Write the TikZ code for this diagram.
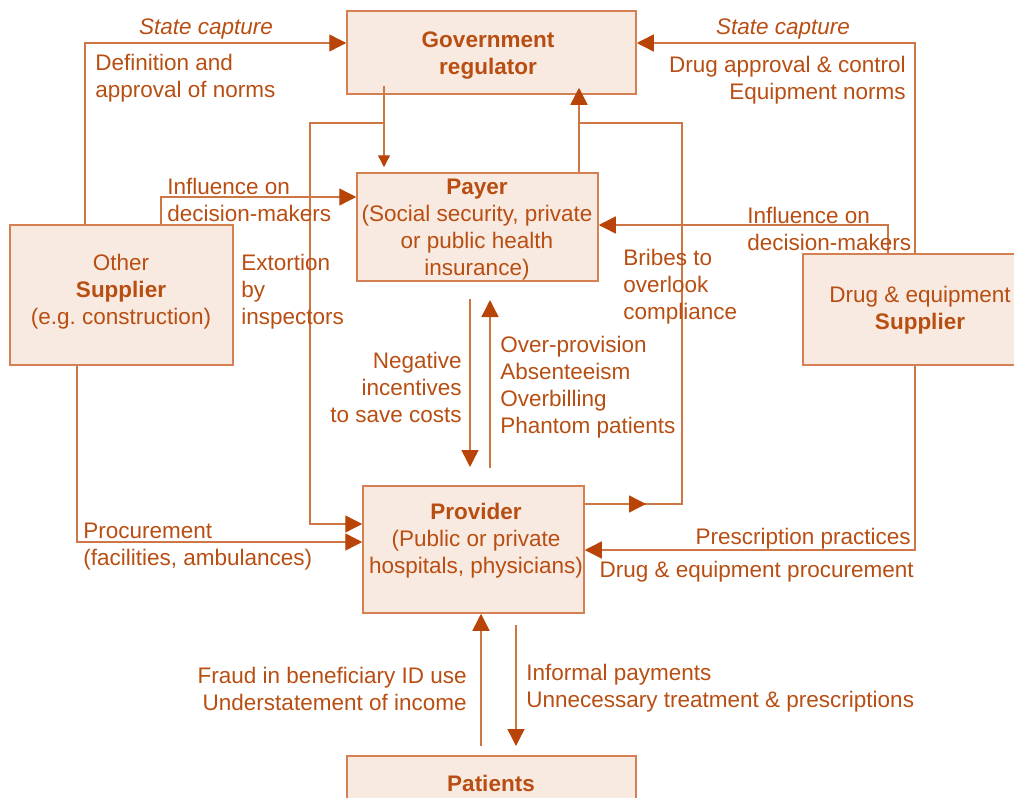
\documentclass[tikz,border=0pt]{standalone}
\usepackage{fontspec}
\setmainfont{Liberation Sans}
\usetikzlibrary{arrows.meta}
\definecolor{tc}{RGB}{184,78,18}
\definecolor{lc}{RGB}{206,118,68}
\definecolor{bf}{RGB}{249,234,225}
\definecolor{bd}{RGB}{212,128,82}
\definecolor{ac}{RGB}{184,68,8}
\tikzset{
  box/.style={draw=bd, fill=bf, line width=0.75pt, inner sep=0pt},
  txt/.style={text=tc, inner sep=0pt, yshift=-1.5pt, font=\fontsize{11.25}{13.5}\selectfont},
  con/.style={draw=lc, line width=0.7pt},
  arr/.style={con, -{Triangle[length=8.5pt,width=8.5pt,color=ac]}},
  sarr/.style={con, -{Triangle[length=6pt,width=6pt,color=ac]}},
}
\begin{document}
\begin{tikzpicture}[x=0.5pt,y=-0.5pt]
\useasboundingbox (0,0) rectangle (1014,798);
% boxes
\node[box, minimum width=144.5pt, minimum height=41.5pt] (gov) at (491.5,52.5) {};
\node[box, minimum width=120.5pt, minimum height=54pt] (pay) at (477.5,227) {};
\node[box, minimum width=111.5pt, minimum height=70pt] (osup) at (121.5,295) {};
\node[box, minimum width=117pt, minimum height=55.5pt] (dsup) at (920,309.5) {};
\node[box, minimum width=110.5pt, minimum height=63.5pt] (prov) at (473.5,549.5) {};
\node[box, minimum width=144.5pt, minimum height=37pt] (pat) at (491.5,793) {};
% coordinates
\coordinate (a1) at (85,43);
\coordinate (a2) at (915,43);
\coordinate (a3) at (384,123);
\coordinate (a4) at (310,123);
\coordinate (a5) at (310,524);
\coordinate (b1) at (579,123);
\coordinate (b2) at (682,123);
\coordinate (b3) at (682,504);
\coordinate (bm) at (646,504);
\coordinate (c1) at (888,225);
\coordinate (c2) at (161,197);
\coordinate (c3) at (77,542);
\coordinate (c4) at (915,550);
\coordinate (d1) at (470,299);
\coordinate (d2) at (470,467);
\coordinate (d3) at (490,468);
\coordinate (d4) at (490,300);
\coordinate (e1) at (481,746);
\coordinate (e2) at (516,625);
\coordinate (e3) at (516,746);
% connectors
\draw[arr] (a1 |- osup.north) -- (a1) -- (gov.west |- a1);
\draw[arr] (a2 |- dsup.north) -- (a2) -- (gov.east |- a2);
\draw[sarr, shorten <=-4.5pt, shorten >=2.5pt] (a3 |- gov.south) -- (a3 |- pay.north);
\draw[arr] (a3) -- (a4) -- (a5) -- (prov.west |- a5);
\draw[arr, shorten >=-3.5pt] (b1 |- pay.north) -- (b1 |- gov.south);
\draw[con] (prov.east |- b3) -- (b3) -- (b2) -- (b1);
\draw[arr] (prov.east |- b3) -- (bm);
\draw[arr] (c1 |- dsup.north) -- (c1) -- (pay.east |- c1);
\draw[arr] (c2 |- osup.north) -- (c2) -- (pay.west |- c2);
\draw[arr] (c3 |- osup.south) -- (c3) -- (prov.west |- c3);
\draw[arr] (c4 |- dsup.south) -- (c4) -- (prov.east |- c4);
\draw[arr] (d1) -- (d2);
\draw[arr] (d3) -- (d4);
\draw[arr] (e1) -- (e1 |- prov.south);
\draw[arr] (e2) -- (e3);
% box texts
\node[txt, align=center] (govt) at (488,53) {\textbf{Government}\\\textbf{regulator}};
\node[txt, align=center] (payt) at (477,227) {\textbf{Payer}\\(Social security, private\\or public health\\insurance)};
\node[txt, align=center] (osupt) at (121,289) {Other\\\textbf{Supplier}\\(e.g.\ construction)};
\node[txt, align=center] (dsupt) at (920,307) {Drug \& equipment\\\textbf{Supplier}};
\node[txt, align=center] (provt) at (476,537.5) {\textbf{Provider}\\(Public or private\\hospitals, physicians)};
\node[txt] (patt) at (491,780) {\textbf{Patients}};
% labels
\node[txt, font=\fontsize{11.25}{13.5}\selectfont\itshape] (l1) at (206,26) {State capture};
\node[txt, font=\fontsize{11.25}{13.5}\selectfont\itshape] (l2) at (783,26) {State capture};
\node[txt, align=left, anchor=west] (l3) at (95,75.5) {Definition and\\approval of norms};
\node[txt, align=right, anchor=east] (l4) at (906,77) {Drug approval \& control\\Equipment norms};
\node[txt, align=left, anchor=west] (l5) at (167,197) {Influence on\\decision-makers};
\node[txt, align=left, anchor=west] (l6) at (747,225.5) {Influence on\\decision-makers};
\node[txt, align=left, anchor=west] (l7) at (241,289) {Extortion\\by\\inspectors};
\node[txt, align=left, anchor=west] (l8) at (623,284) {Bribes to\\overlook\\compliance};
\node[txt, align=right, anchor=east] (l9) at (462,384.5) {Negative\\incentives\\to save costs};
\node[txt, align=left, anchor=west] (l10) at (500,384.5) {Over-provision\\Absenteeism\\Overbilling\\Phantom patients};
\node[txt, align=left, anchor=west] (l11) at (83,544) {Procurement\\(facilities, ambulances)};
\node[txt, anchor=east] (l12) at (911,536) {Prescription practices};
\node[txt, anchor=east] (l13) at (914,569) {Drug \& equipment procurement};
\node[txt, align=right, anchor=east] (l14) at (467,685.5) {Fraud in beneficiary ID use\\Understatement of income};
\node[txt, align=left, anchor=west] (l15) at (526,685.5) {Informal payments\\Unnecessary treatment \& prescriptions};
\end{tikzpicture}
\end{document}
